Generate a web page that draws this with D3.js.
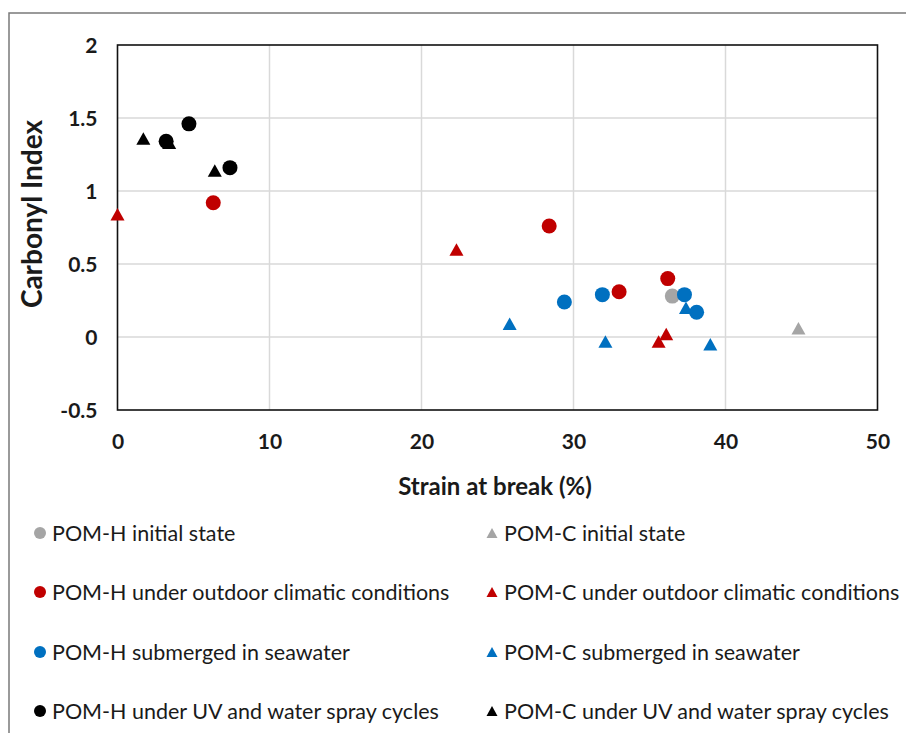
<!DOCTYPE html>
<html>
<head>
<meta charset="utf-8">
<script src="https://cdn.jsdelivr.net/npm/d3@7"></script>
<style>
  html, body { margin: 0; padding: 0; background: #fff; }
  svg { display: block; }
  text { font-family: Lato, "Open Sans", sans-serif; fill: #1a1a1a; }
</style>
</head>
<body>
<svg id="chart" width="906" height="733"></svg>
<script>
// ---- data ----
const xTicks = [0, 10, 20, 30, 40, 50];
const yTicks = [-0.5, 0, 0.5, 1, 1.5, 2];
const xTitle = "Strain at break (%)";
const yTitle = "Carbonyl Index";

const pomHInitial = [[36.5, 0.28]];
const pomCInitial = [[44.8, 0.06]];
const pomHOutdoor = [[6.3, 0.92], [28.4, 0.76], [33.0, 0.31], [36.2, 0.40]];
const pomCOutdoor = [[0.0, 0.84], [22.3, 0.60], [35.6, -0.03], [36.1, 0.02]];
const pomHSea = [[29.4, 0.24], [31.9, 0.29], [37.3, 0.29], [38.1, 0.17]];
const pomCSea = [[25.8, 0.09], [32.1, -0.03], [37.4, 0.20], [39.0, -0.05]];
const pomHUV = [[3.2, 1.34], [4.7, 1.46], [7.4, 1.16]];
const pomCUV = [[1.7, 1.36], [3.4, 1.33], [6.4, 1.14]];

const seriesNames = [
  "POM-H initial state", "POM-C initial state",
  "POM-H under outdoor climatic conditions", "POM-C under outdoor climatic conditions",
  "POM-H submerged in seawater", "POM-C submerged in seawater",
  "POM-H under UV and water spray cycles", "POM-C under UV and water spray cycles"
];
const seriesColors = ["#A5A5A5", "#A5A5A5", "#C00000", "#C00000", "#0070C0", "#0070C0", "#000000", "#000000"];
const seriesShapes = ["circle", "triangle", "circle", "triangle", "circle", "triangle", "circle", "triangle"];
const seriesData = [pomHInitial, pomCInitial, pomHOutdoor, pomCOutdoor, pomHSea, pomCSea, pomHUV, pomCUV];

// ---- layout ----
const svg = d3.select("#chart");
const plot = { left: 117.5, right: 877.5, top: 45, bottom: 410 };

const x = d3.scaleLinear().domain([0, 50]).range([plot.left, plot.right]);
const y = d3.scaleLinear().domain([-0.5, 2]).range([plot.bottom, plot.top]);

// outer frame
svg.append("path")
  .attr("d", `M9,733 L9,13 L906,13`)
  .attr("fill", "none").attr("stroke", "#7a7a7a").attr("stroke-width", 1.5);

// grid
const grid = svg.append("g");
grid.selectAll("line.vx").data(xTicks.slice(1, -1)).join("line")
  .attr("x1", d => x(d)).attr("x2", d => x(d))
  .attr("y1", plot.top).attr("y2", plot.bottom)
  .attr("stroke", "#d9d9d9").attr("stroke-width", 1.5);
grid.selectAll("line.hy").data(yTicks.slice(1, -1)).join("line")
  .attr("x1", plot.left).attr("x2", plot.right)
  .attr("y1", d => y(d)).attr("y2", d => y(d))
  .attr("stroke", "#d9d9d9").attr("stroke-width", 1.5);

// plot frame
svg.append("rect")
  .attr("x", plot.left).attr("y", plot.top)
  .attr("width", plot.right - plot.left).attr("height", plot.bottom - plot.top)
  .attr("fill", "none").attr("stroke", "#111").attr("stroke-width", 1.6);

// axes
const xAxis = d3.axisBottom(x).tickValues(xTicks).tickSize(0).tickPadding(0).tickFormat(d3.format("d"));
const gx = svg.append("g").attr("transform", `translate(0,${plot.bottom})`).call(xAxis);
gx.select(".domain").remove();
gx.selectAll("text").attr("dy", null).attr("y", 39)
  .style("font-size", "21px").style("font-weight", "bold").attr("fill", "#1a1a1a");

const yAxis = d3.axisLeft(y).tickValues(yTicks).tickSize(0).tickPadding(0).tickFormat(d => String(d));
const gy = svg.append("g").attr("transform", `translate(${plot.left},0)`).call(yAxis);
gy.select(".domain").remove();
gy.selectAll("text").attr("x", -20).attr("dy", "0.36em")
  .style("font-size", "21px").style("font-weight", "bold").attr("fill", "#1a1a1a");

// titles
svg.append("text").attr("x", 495).attr("y", 495).attr("text-anchor", "middle")
  .style("font-size", "24px").style("font-weight", "bold").text(xTitle);
svg.append("text").attr("transform", "translate(42,214) rotate(-90)")
  .attr("text-anchor", "middle")
  .style("font-size", "28px").style("font-weight", "bold").text(yTitle);

// markers
function triPath(w, h) {
  return `M0,${-h / 2} L${w / 2},${h / 2} L${-w / 2},${h / 2} Z`;
}
const order = [1, 3, 5, 7, 0, 2, 4, 6]; // triangles first, then circles
const marks = svg.append("g");
order.forEach(i => {
  const g = marks.append("g");
  if (seriesShapes[i] === "circle") {
    g.selectAll("circle").data(seriesData[i]).join("circle")
      .attr("cx", d => x(d[0])).attr("cy", d => y(d[1])).attr("r", 7.5)
      .attr("fill", seriesColors[i]);
  } else {
    g.selectAll("path").data(seriesData[i]).join("path")
      .attr("transform", d => `translate(${x(d[0])},${y(d[1])})`)
      .attr("d", triPath(14, 12.5))
      .attr("fill", seriesColors[i]);
  }
});

// legend
const legRowsY = [533, 592, 652, 711];
const legColX = [40, 492];
const legend = svg.append("g");
seriesNames.forEach((name, i) => {
  const col = i % 2, row = Math.floor(i / 2);
  const cx = legColX[col], cy = legRowsY[row];
  if (seriesShapes[i] === "circle") {
    legend.append("circle").attr("cx", cx).attr("cy", cy).attr("r", 6).attr("fill", seriesColors[i]);
  } else {
    legend.append("path").attr("transform", `translate(${cx},${cy})`)
      .attr("d", triPath(11, 10)).attr("fill", seriesColors[i]);
  }
  legend.append("text").attr("x", cx + 12).attr("y", cy).attr("dy", "0.36em")
    .style("font-size", "21.5px").text(name);
});
</script>
</body>
</html>
